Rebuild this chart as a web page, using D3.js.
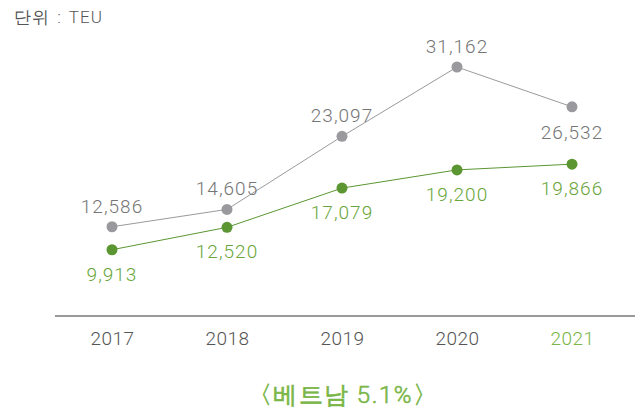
<!DOCTYPE html>
<html>
<head>
<meta charset="utf-8">
<script src="https://cdn.jsdelivr.net/npm/d3@7"></script>
<style>
  body { margin: 0; background: #fff; }
  svg text { font-family: "Roboto Light", Roboto, "Noto Sans", sans-serif; }
</style>
</head>
<body>
<div id="vis"></div>
<script>
const WIDTH = 635;
const HEIGHT = 415;

const years = ["2017", "2018", "2019", "2020", "2021"];
const totalValues = [12586, 14605, 23097, 31162, 26532];
const vietnamValues = [9913, 12520, 17079, 19200, 19866];
const unitLabel = "단위 : TEU";
const captionLabel = "〈베트남 5.1%〉";

const GRAY = "#9a9a9e";
const GRAY_TEXT = "#767676";
const GREEN = "#5b9632";
const GREEN_TEXT = "#6aa63c";

const SVG = d3.select("#vis").append("svg").attr("width", WIDTH).attr("height", HEIGHT);

const escalaX = d3.scalePoint().domain(years).range([112, 572]);
const escalaY = d3.scaleLinear().domain([0, 35000]).range([335, 34]);

// unit label
SVG.append("text")
  .attr("x", 14).attr("y", 23)
  .attr("font-size", 17)
  .attr("font-family", "'Noto Sans CJK KR', sans-serif")
  .attr("font-weight", 300)
  .attr("letter-spacing", 1)
  .attr("word-spacing", 2)
  .attr("fill", "#555")
  .text(unitLabel);

// baseline axis
const ejeX = d3.axisBottom(escalaX).tickSize(0).tickPadding(16);
const gx = SVG.append("g").attr("transform", "translate(0,316)").call(ejeX);
gx.select(".domain").remove();
gx.append("line").attr("x1", 55).attr("x2", 635).attr("y1", 0).attr("y2", 0)
  .attr("stroke", "#999").attr("stroke-width", 2);
gx.selectAll(".tick text")
  .attr("font-size", 19)
  .attr("font-family", "'Roboto Light', Roboto, sans-serif")
  .attr("font-weight", 300)
  .attr("letter-spacing", 0.5)
  .attr("fill", d => d === "2021" ? "#7ab648" : "#555");

const linea = d3.line().x((d, i) => escalaX(years[i])).y(d => escalaY(d));

function serie(values, color, textColor, labelDy) {
  const g = SVG.append("g");
  g.append("path").datum(values)
    .attr("d", linea)
    .attr("fill", "none")
    .attr("stroke", color)
    .attr("stroke-width", 1);
  g.selectAll("circle").data(values).join("circle")
    .attr("cx", (d, i) => escalaX(years[i]))
    .attr("cy", d => escalaY(d))
    .attr("r", 5.5)
    .attr("fill", color);
  g.selectAll("text").data(values).join("text")
    .attr("x", (d, i) => escalaX(years[i]))
    .attr("y", (d, i) => escalaY(d) + labelDy(i))
    .attr("text-anchor", "middle")
    .attr("font-size", 19)
    .attr("font-weight", 300)
    .attr("letter-spacing", 1)
    .attr("fill", textColor)
    .text(d => d3.format(",")(d));
}

serie(totalValues, GRAY, GRAY_TEXT, i => i === 4 ? 32 : -14);
serie(vietnamValues, GREEN, GREEN_TEXT, i => 31);

// caption
SVG.append("text")
  .attr("x", 343).attr("y", 403)
  .attr("text-anchor", "middle")
  .attr("font-size", 24)
  .attr("font-family", "'Noto Sans CJK KR', sans-serif")
  .attr("font-weight", 400)
  .attr("letter-spacing", 1.5)
  .attr("fill", "#7ab648")
  .attr("stroke", "#7ab648")
  .attr("stroke-width", 0.6)
  .text(captionLabel);
</script>
</body>
</html>
